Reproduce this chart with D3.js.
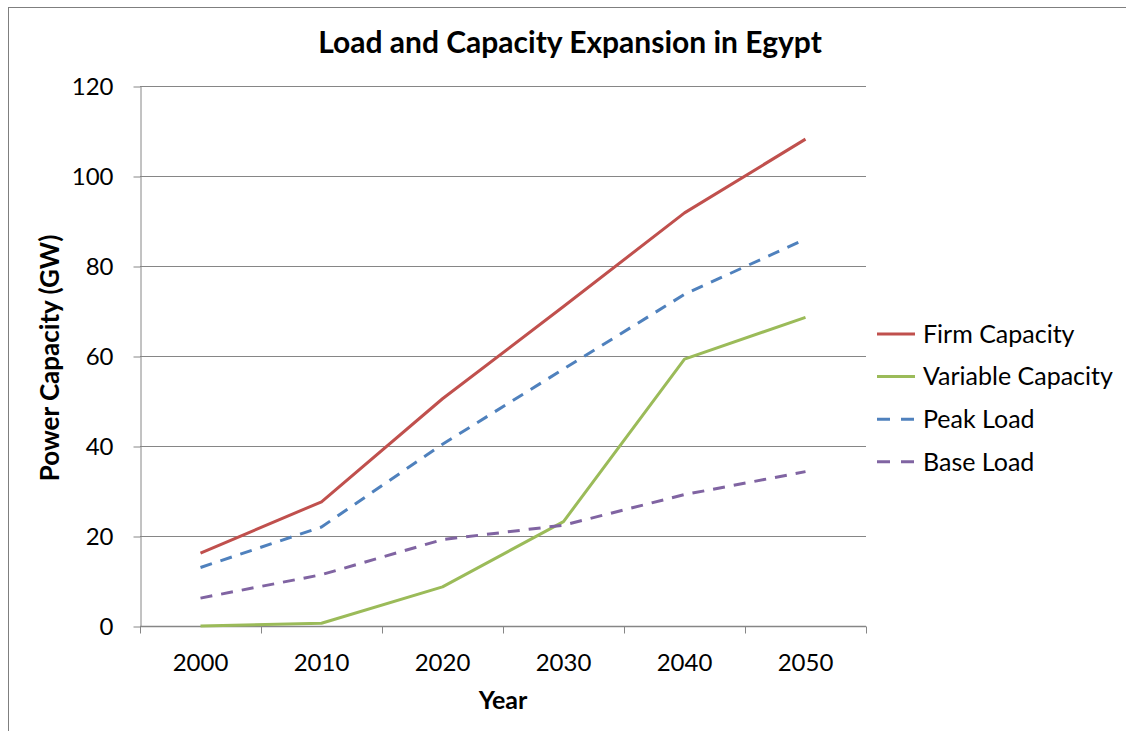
<!DOCTYPE html>
<html>
<head>
<meta charset="utf-8">
<script src="https://cdn.jsdelivr.net/npm/d3@7"></script>
<style>
  html, body { margin: 0; padding: 0; background: #fff; }
  svg { display: block; }
  text { font-family: Lato, "Open Sans", sans-serif; fill: #000; }
</style>
</head>
<body>
<svg id="chart" width="1126" height="731"></svg>
<script>
// Chart data
const years = ["2000", "2010", "2020", "2030", "2040", "2050"];
const firmCapacity = [16.2, 27.6, 50.5, 71.0, 91.8, 108.2];
const variableCapacity = [0, 0.6, 8.7, 23.2, 59.3, 68.6];
const peakLoad = [13.0, 22.0, 40.4, 57.1, 73.7, 86.0];
const baseLoad = [6.2, 11.4, 19.2, 22.4, 29.2, 34.3];
const yTicks = [0, 20, 40, 60, 80, 100, 120];

const seriesNames = ["Firm Capacity", "Variable Capacity", "Peak Load", "Base Load"];
const seriesValues = [firmCapacity, variableCapacity, peakLoad, baseLoad];
const seriesColors = ["#C0504D", "#9BBB59", "#4F81BD", "#8064A2"];
const seriesDash = [null, null, "12,9", "12,9"];

const svg = d3.select("#chart");
const gridColor = "#868686";

// Outer chart frame
svg.append("rect")
  .attr("x", 8.5).attr("y", 7.5)
  .attr("width", 1130).attr("height", 740)
  .attr("fill", "none").attr("stroke", "#7f7f7f").attr("stroke-width", 1);

const plot = { left: 140, right: 866, top: 86, bottom: 626 };

const x = d3.scalePoint().domain(years).range([plot.left, plot.right]).padding(0.5);
const xBand = d3.scaleBand().domain(years).range([plot.left, plot.right]);
const y = d3.scaleLinear().domain([0, 120]).range([plot.bottom, plot.top]);

// Horizontal gridlines
svg.append("g")
  .selectAll("line")
  .data(yTicks.filter(d => d > 0))
  .join("line")
  .attr("x1", plot.left).attr("x2", plot.right)
  .attr("y1", d => Math.round(y(d)) + 0.5).attr("y2", d => Math.round(y(d)) + 0.5)
  .attr("stroke", gridColor).attr("stroke-width", 1);

// Y axis
const yAxis = svg.append("g")
  .attr("transform", `translate(${plot.left + 0.5},0.5)`)
  .call(d3.axisLeft(y).tickValues(yTicks).tickSize(7).tickPadding(20).tickSizeOuter(0));
yAxis.select(".domain").attr("stroke", gridColor);
yAxis.selectAll(".tick line").attr("stroke", gridColor);
yAxis.selectAll(".tick text")
  .attr("font-family", "Lato, sans-serif").attr("font-size", 24).attr("fill", "#000");

// X axis with tick marks at category boundaries
const xAxisG = svg.append("g").attr("transform", `translate(0,${plot.bottom + 0.5})`);
xAxisG.append("line")
  .attr("x1", plot.left).attr("x2", plot.right)
  .attr("stroke", gridColor).attr("stroke-width", 1.5);
const boundaries = years.map(d => xBand(d)).concat([xBand(years[years.length - 1]) + xBand.bandwidth()]);
xAxisG.selectAll("line.tick")
  .data(boundaries)
  .join("line")
  .attr("class", "tick")
  .attr("x1", d => Math.round(d) + 0.5).attr("x2", d => Math.round(d) + 0.5)
  .attr("y1", 0).attr("y2", 7)
  .attr("stroke", gridColor);
xAxisG.selectAll("text")
  .data(years)
  .join("text")
  .attr("x", d => x(d))
  .attr("y", 36)
  .attr("dy", "0.35em")
  .attr("text-anchor", "middle")
  .attr("font-size", 24)
  .text(d => d);

// Series lines
const line = d3.line()
  .x((d, i) => x(years[i]))
  .y(d => y(d));

seriesValues.forEach((vals, k) => {
  svg.append("path")
    .datum(vals)
    .attr("d", line)
    .attr("fill", "none")
    .attr("stroke", seriesColors[k])
    .attr("stroke-width", 3)
    .attr("stroke-linejoin", "round")
    .attr("stroke-dasharray", seriesDash[k]);
});

// Title
svg.append("text")
  .attr("x", 570).attr("y", 42)
  .attr("dy", "0.35em")
  .attr("text-anchor", "middle")
  .attr("font-size", 30).attr("font-weight", "bold")
  .text("Load and Capacity Expansion in Egypt");

// Axis titles
svg.append("text")
  .attr("x", 503).attr("y", 700)
  .attr("dy", "0.35em")
  .attr("text-anchor", "middle")
  .attr("font-size", 25).attr("font-weight", "bold")
  .text("Year");

svg.append("text")
  .attr("transform", "translate(50,358) rotate(-90)")
  .attr("dy", "0.35em")
  .attr("text-anchor", "middle")
  .attr("font-size", 26).attr("font-weight", "bold")
  .text("Power Capacity (GW)");

// Legend
const legend = svg.append("g").attr("transform", "translate(877,334)");
seriesNames.forEach((name, k) => {
  const g = legend.append("g").attr("transform", `translate(0,${k * 42.6})`);
  g.append("line")
    .attr("x1", 0).attr("x2", 38)
    .attr("y1", 0).attr("y2", 0)
    .attr("stroke", seriesColors[k])
    .attr("stroke-width", 3)
    .attr("stroke-dasharray", seriesDash[k] ? "13,11" : null);
  g.append("text")
    .attr("x", 46).attr("y", 0)
    .attr("dy", "0.35em")
    .attr("font-size", 25)
    .text(name);
});
</script>
</body>
</html>
